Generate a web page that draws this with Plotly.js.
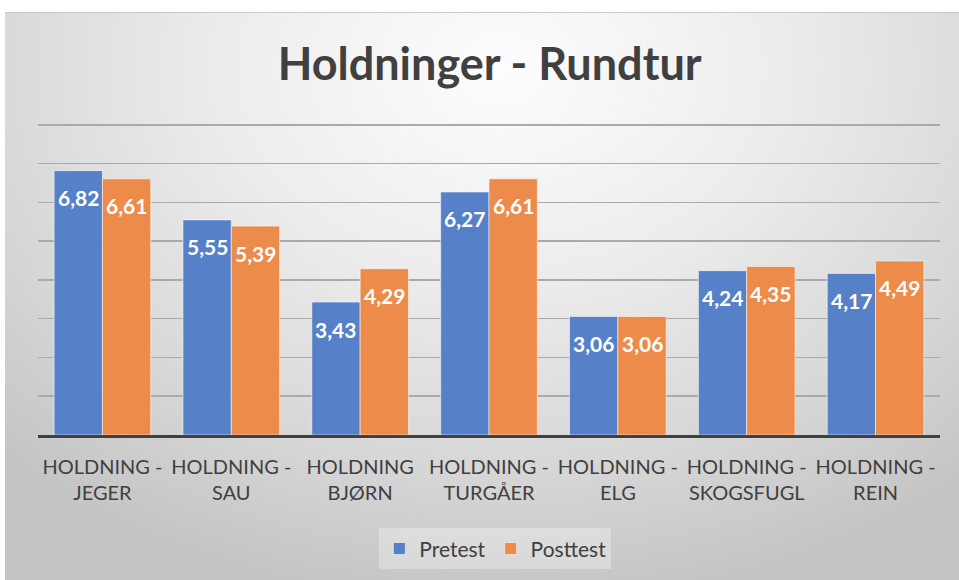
<!DOCTYPE html>
<html>
<head>
<meta charset="utf-8">
<script src="https://cdn.plot.ly/plotly-3.0.1.min.js"></script>
<style>
  html, body { margin: 0; padding: 0; background: #ffffff; width: 959px; height: 580px; overflow: hidden; }
  #chart {
    position: absolute; left: 5px; top: 12px; width: 954px; height: 568px;
    background: radial-gradient(ellipse 75% 95% at 52% 10%, #fdfdfd 0%, #ececec 40%, #d6d6d6 75%, #c4c4c4 100%);
    border-top: 1px solid #c8c8c8;
    box-sizing: border-box;
  }
</style>
</head>
<body>
<div id="chart"></div>
<script>
const categories = [
  "HOLDNING -<br>JEGER",
  "HOLDNING -<br>SAU",
  "HOLDNING<br>BJØRN",
  "HOLDNING -<br>TURGÅER",
  "HOLDNING -<br>ELG",
  "HOLDNING -<br>SKOGSFUGL",
  "HOLDNING -<br>REIN"
];
const pretest = [6.82, 5.55, 3.43, 6.27, 3.06, 4.24, 4.17];
const posttest = [6.61, 5.39, 4.29, 6.61, 3.06, 4.35, 4.49];
const seriesNames = ["Pretest", "Posttest"];
const seriesColors = ["#5681c8", "#ec8b4a"];

const FONT = "Lato, 'Open Sans', sans-serif";

const traces = [pretest, posttest].map((vals, i) => ({
  type: "bar", name: seriesNames[i], x: categories, y: vals,
  marker: { color: seriesColors[i], line: { color: "rgba(255,255,255,0.55)", width: 1 } },
  hoverinfo: "none"
}));

const fmt = v => v.toFixed(2).replace(".", ",");
const annotations = [];
[pretest, posttest].forEach((vals, i) => {
  vals.forEach((v, j) => {
    annotations.push({
      x: categories[j], y: v, xref: "x", yref: "y",
      text: "<b>" + fmt(v) + "</b>", showarrow: false,
      xanchor: "center", yanchor: "middle",
      xshift: i === 0 ? -24.2 : 24.2, yshift: -27,
      font: { family: FONT, size: 21, color: "#ffffff" }
    });
  });
});

const layout = {
  width: 954, height: 568,
  paper_bgcolor: "rgba(0,0,0,0)", plot_bgcolor: "rgba(0,0,0,0)",
  margin: { l: 33, r: 19, t: 110, b: 144 },
  barmode: "group", bargap: 0.25, bargroupgap: 0.0,
  font: { family: FONT, color: "#404040" },
  title: {
    text: "<b>Holdninger - Rundtur</b>",
    font: { family: FONT, size: 45, color: "#404040" },
    x: 0.508, xref: "container", xanchor: "center",
    y: 0.91, yref: "container", yanchor: "middle"
  },
  xaxis: {
    tickfont: { family: FONT, size: 20, color: "#404040" },
    showgrid: false, showline: true, linecolor: "#404040", linewidth: 3,
    ticks: "", ticklabelstandoff: 12, fixedrange: true
  },
  yaxis: {
    range: [0, 8.05], dtick: 1, showticklabels: false, zeroline: false,
    showgrid: true, gridcolor: "#aaaaaa", gridwidth: 1.5, fixedrange: true
  },
  annotations: annotations,
  showlegend: true,
  legend: {
    orientation: "h", x: 0.507, xanchor: "center", y: -0.365, yanchor: "middle",
    bgcolor: "rgba(255,255,255,0.3)", borderwidth: 0,
    font: { family: FONT, size: 21, color: "#404040" },
    traceorder: "normal"
  }
};

Plotly.newPlot("chart", traces, layout, { staticPlot: true, displayModeBar: false });
</script>
</body>
</html>
